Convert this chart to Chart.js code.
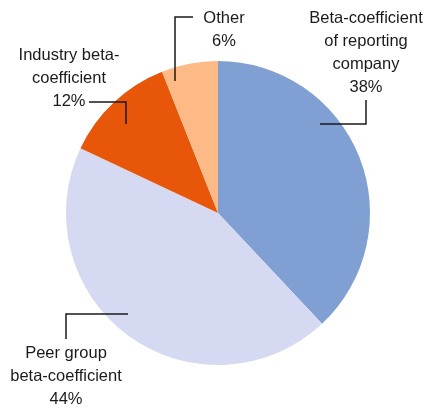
<!DOCTYPE html>
<html>
<head>
<meta charset="utf-8">
<script src="https://cdn.jsdelivr.net/npm/chart.js@4.4.1/dist/chart.umd.min.js"></script>
<style>
  html, body { margin: 0; padding: 0; background: #fff; }
  #wrap { width: 428px; height: 408px; }
</style>
</head>
<body>
<div id="wrap"><canvas id="betaPie" width="428" height="408"></canvas></div>
<script>
// Shares of beta-coefficient sources
const categories = [
    ['Beta-coefficient', 'of reporting', 'company'],
    ['Peer group', 'beta-coefficient'],
    ['Industry beta-', 'coefficient'],
    ['Other']
];
const shares = [38, 44, 12, 6];
const sliceColors = ['#809FD3', '#D5DAF2', '#E8560A', '#FDBA86'];

// Label placement: text anchor and leader line path (x,y points)
const labelLayout = [
    { x: 366, y: 18, line: [[366, 100], [366, 124], [320, 124]] },
    { x: 66, y: 353, line: [[128, 314], [66, 314], [66, 339]] },
    { x: 69, y: 55, line: [[89, 102], [126, 102], [126, 124]] },
    { x: 224, y: 18, line: [[193, 17], [175, 17], [175, 81]] }
];

const calloutPlugin = {
    id: 'callouts',
    afterDatasetsDraw(chart) {
        const ctx = chart.ctx;
        const lineH = 23;
        ctx.save();
        ctx.strokeStyle = '#1a1a1a';
        ctx.lineWidth = 1.5;
        ctx.fillStyle = '#1a1a1a';
        ctx.font = '16.5px "Liberation Sans", Arial, sans-serif';
        ctx.textAlign = 'center';
        ctx.textBaseline = 'middle';
        chart.data.datasets[0].data.forEach((v, i) => {
            const lay = labelLayout[i];
            ctx.beginPath();
            lay.line.forEach(([px, py], k) => k ? ctx.lineTo(px, py) : ctx.moveTo(px, py));
            ctx.stroke();
            const lines = chart.data.labels[i].concat([v + '%']);
            lines.forEach((t, k) => ctx.fillText(t, lay.x, lay.y + k * lineH));
        });
        ctx.restore();
    }
};

new Chart(document.getElementById('betaPie').getContext('2d'), {
    type: 'pie',
    data: {
        labels: categories,
        datasets: [{
            data: shares,
            backgroundColor: sliceColors,
            borderWidth: 0
        }]
    },
    options: {
        responsive: false,
        animation: false,
        layout: { padding: { left: 66, right: 58, top: 61, bottom: 43 } },
        plugins: {
            legend: { display: false },
            tooltip: { enabled: false }
        }
    },
    plugins: [calloutPlugin]
});
</script>
</body>
</html>
